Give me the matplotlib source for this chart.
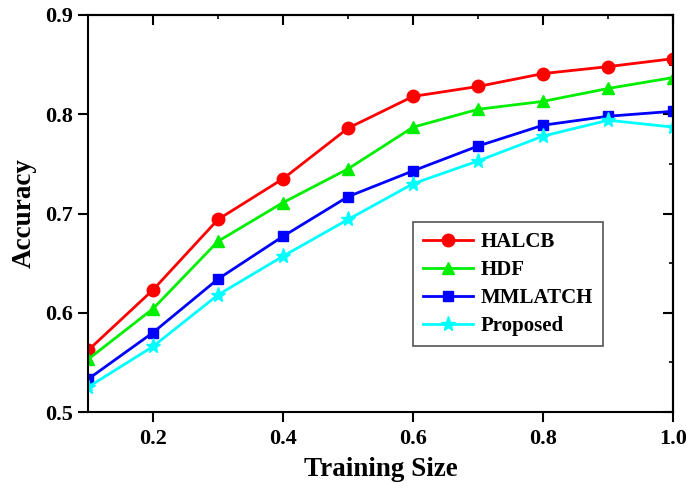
import matplotlib
matplotlib.use("Agg")
import matplotlib.pyplot as plt
from matplotlib.ticker import MultipleLocator, NullLocator, NullFormatter

plt.rcParams['font.family'] = ['Liberation Serif', 'DejaVu Serif']
plt.rcParams['font.weight'] = 'bold'

x = [0.1, 0.2, 0.3, 0.4, 0.5, 0.6, 0.7, 0.8, 0.9, 1.0]
halcb = [0.562, 0.623, 0.694, 0.735, 0.786, 0.818, 0.828, 0.841, 0.848, 0.856]
hdf = [0.553, 0.604, 0.672, 0.711, 0.745, 0.787, 0.805, 0.813, 0.826, 0.837]
mmlatch = [0.533, 0.580, 0.634, 0.677, 0.717, 0.743, 0.768, 0.789, 0.798, 0.803]
proposed = [0.525, 0.566, 0.618, 0.657, 0.694, 0.730, 0.753, 0.778, 0.794, 0.787]

series = [
    ("HALCB", halcb, "#ff0000", "o", 9),
    ("HDF", hdf, "#00ee00", "^", 9),
    ("MMLATCH", mmlatch, "#0000ff", "s", 7.5),
    ("Proposed", proposed, "#00ffff", "*", 11),
]

fig = plt.figure(figsize=(6.87, 5.0), dpi=100)
ax = fig.add_axes([0.128, 0.176, 0.852, 0.794])
for name, ys, c, m, ms in series:
    ax.plot(x, ys, color=c, marker=m, markersize=ms, linewidth=2, label=name)

ax.set_xlim(0.1, 1.0)
ax.set_ylim(0.5, 0.9)
ax.set_xticks([0.2, 0.4, 0.6, 0.8, 1.0])
ax.set_xticklabels(["0.2", "0.4", "0.6", "0.8", "1.0"])
ax.set_yticks([0.5, 0.6, 0.7, 0.8, 0.9])
ax.set_yticklabels(["0.5", "0.6", "0.7", "0.8", "0.9"])
ax.xaxis.set_minor_locator(NullLocator())
ax.yaxis.set_minor_locator(NullLocator())
ax.tick_params(which='major', direction='out', length=7, width=1.5, labelsize=16)
ax.tick_params(axis='x', pad=5)
ax.tick_params(axis='y', pad=4)
for lbl in ax.get_xticklabels() + ax.get_yticklabels():
    lbl.set_fontweight('bold')
for s in ax.spines.values():
    s.set_linewidth(1.5)

top = ax.secondary_xaxis('top')
top.set_xticks([0.2, 0.4, 0.6, 0.8, 1.0])
top.xaxis.set_minor_locator(MultipleLocator(0.1))
top.xaxis.set_major_formatter(NullFormatter())
top.tick_params(which='major', direction='in', length=7, width=1.5)
top.tick_params(which='minor', direction='in', length=3, width=1.2)
top.spines['top'].set_linewidth(1.5)

right = ax.secondary_yaxis('right')
right.set_yticks([0.5, 0.6, 0.7, 0.8, 0.9])
right.yaxis.set_minor_locator(MultipleLocator(0.05))
right.yaxis.set_major_formatter(NullFormatter())
right.tick_params(which='major', direction='in', length=7, width=1.5)
right.tick_params(which='minor', direction='in', length=3, width=1.2)
right.spines['right'].set_linewidth(1.5)

ax.set_xlabel("Training Size", fontsize=19.5, fontweight='bold', labelpad=6)
ax.set_ylabel("Accuracy", fontsize=19.5, fontweight='bold', labelpad=6)

leg = ax.legend(loc='lower left', bbox_to_anchor=(0.555, 0.165), fontsize=15,
                fancybox=False, edgecolor='#555555', framealpha=1,
                handlelength=2.4, handletextpad=0.35, borderpad=0.5,
                labelspacing=0.38, borderaxespad=0)
leg.get_frame().set_linewidth(1.2)
for t in leg.get_texts():
    t.set_fontweight('bold')

fig.savefig("out.png", dpi=100)
